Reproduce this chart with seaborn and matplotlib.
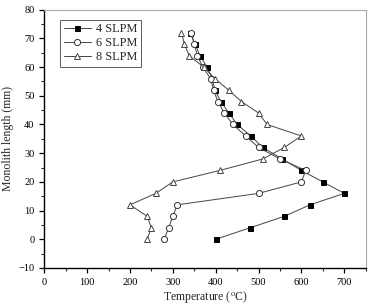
import numpy as np
import pandas as pd
import matplotlib
matplotlib.use("Agg")
import matplotlib.pyplot as plt
import seaborn as sns

length = [0, 4, 8, 12, 16, 20, 24, 28, 32, 36, 40, 44, 48, 52, 56, 60, 64, 68, 72]
temp_4 = [400, 480, 560, 620, 700, 650, 600, 555, 510, 482, 450, 431, 412, 398, 392, 380, 363, 352, 340]
temp_6 = [280, 290, 300, 310, 500, 600, 610, 550, 500, 470, 440, 420, 405, 395, 388, 370, 357, 350, 343]
temp_8 = [240, 250, 240, 200, 260, 300, 410, 510, 560, 600, 520, 500, 460, 430, 398, 372, 338, 327, 320]
labels = ["4 SLPM", "6 SLPM", "8 SLPM"]

sns.set_theme(style="ticks")
plt.rcParams["font.family"] = ["Liberation Serif", "DejaVu Serif"]
plt.rcParams["mathtext.fontset"] = "stix"

fig = plt.figure(figsize=(3.68, 3.06), dpi=100)
ax = fig.add_axes([0.1204, 0.1242, 0.9937 - 0.1204, 0.9683 - 0.1242])

styles = [
    dict(marker="s", markerfacecolor="black", markeredgecolor="black", markersize=3.6),
    dict(marker="o", markerfacecolor="white", markeredgecolor="#333333", markersize=4.4),
    dict(marker="^", markerfacecolor="white", markeredgecolor="#444444", markersize=4.6),
]
for temps, lab, st in zip([temp_4, temp_6, temp_8], labels, styles):
    df = pd.DataFrame({"T": temps, "L": length})
    sns.lineplot(data=df, x="T", y="L", sort=False, estimator=None, ax=ax,
                 color="#444444", linewidth=0.7, label=lab,
                 markeredgewidth=0.7, **st)

ax.set_xlim(0, 750)
ax.set_ylim(-10, 80)
ax.set_xticks(range(0, 701, 100))
ax.set_xticks(range(50, 751, 100), minor=True)
ax.set_yticks(range(-10, 81, 10))
ax.set_yticks(range(-5, 80, 10), minor=True)
ax.tick_params(axis="both", which="major", direction="out", length=3.5, width=0.9,
               labelsize=7.5, colors="black", top=False, right=False)
ax.tick_params(axis="both", which="minor", direction="out", length=2, width=0.8,
               top=False, right=False)
for s in ["left", "bottom"]:
    ax.spines[s].set_color("black")
    ax.spines[s].set_linewidth(1.0)
for s in ["top", "right"]:
    ax.spines[s].set_visible(True)
    ax.spines[s].set_color("#aaaaaa")
    ax.spines[s].set_linewidth(0.8)

ax.set_xlabel("Temperature ($^{\\rm o}$C)", fontsize=8.5, labelpad=2)
ax.set_ylabel("Monolith length (mm)", fontsize=8.5, labelpad=3)

leg = ax.legend(loc="upper left", bbox_to_anchor=(0.03, 0.985), fontsize=8.8,
                frameon=True, fancybox=False, handlelength=2.2, handletextpad=0.4,
                borderpad=0.3, labelspacing=0.15)
leg.get_frame().set_edgecolor("#333333")
leg.get_frame().set_linewidth(0.7)

fig.savefig("out.png", dpi=100)
